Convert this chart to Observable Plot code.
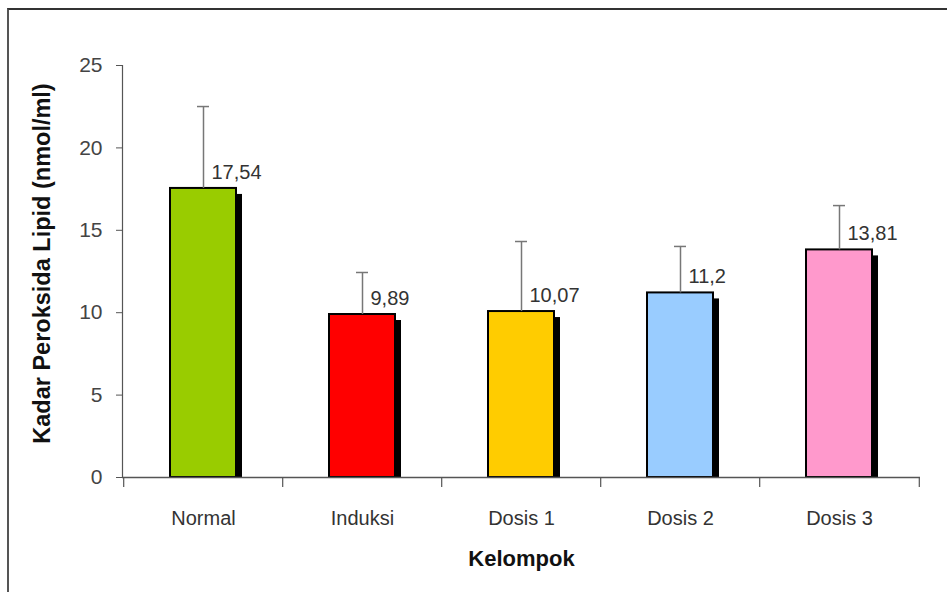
<!DOCTYPE html>
<html>
<head>
<meta charset="utf-8">
<script src="https://cdn.jsdelivr.net/npm/d3@7"></script>
<script src="https://cdn.jsdelivr.net/npm/@observablehq/plot@0.6"></script>
<style>
  html, body { margin: 0; padding: 0; background: #fff; }
  #wrap { position: relative; width: 947px; height: 592px; overflow: hidden; }
  #frame { position: absolute; left: 7px; top: 8px; width: 960px; height: 600px;
           border-top: 2px solid #333; border-left: 2px solid #555; box-sizing: border-box; }
  #chart { position: absolute; left: 0; top: 0; }
</style>
</head>
<body>
<div id="wrap"><div id="frame"></div><div id="chart"></div></div>
<script>
const categories = ["Normal", "Induksi", "Dosis 1", "Dosis 2", "Dosis 3"];
const means = [17.54, 9.89, 10.07, 11.2, 13.81];
const errors = [4.97, 2.55, 4.25, 2.82, 2.69];
const labels = ["17,54", "9,89", "10,07", "11,2", "13,81"];
const colors = ["#99CC00", "#FF0000", "#FFCC00", "#99CCFF", "#FF99CC"];
const yTicks = [0, 5, 10, 15, 20, 25];

const data = categories.map((c, i) => ({cat: c, v: means[i], hi: means[i] + errors[i], label: labels[i], color: colors[i]}));

const W = 947, H = 592;
const mL = 122, mR = 27, mT = 65, mB = 115;
const step = (W - mL - mR) / categories.length;
const pad = 0.585;
const sans = "'Liberation Sans', Arial, sans-serif";

const plot = Plot.plot({
  width: W, height: H,
  marginLeft: mL, marginRight: mR, marginTop: mT, marginBottom: mB,
  style: {fontFamily: sans, background: "transparent"},
  x: {domain: categories, paddingInner: pad, paddingOuter: pad / 2, label: null},
  y: {domain: [0, 25], label: null},
  marks: [
    // shadows
    Plot.barY(data, {x: "cat", y: "v", fill: "#000", dx: 6, dy: 6, clip: "frame"}),
    // bars
    Plot.barY(data, {x: "cat", y: "v", fill: d => d.color, stroke: "#000", strokeWidth: 2}),
    // error bars
    Plot.ruleX(data, {x: "cat", y1: "v", y2: "hi", stroke: "#777", strokeWidth: 1.5}),
    Plot.tickY(data, {x: "cat", y: "hi", stroke: "#777", strokeWidth: 1.5, inset: 27}),
    // value labels
    Plot.text(data, {x: "cat", y: "v", text: "label", dx: 8, dy: -16, textAnchor: "start", fontSize: 20, fill: "#333"}),
    // y axis
    Plot.axisY({ticks: yTicks, tickSize: 6, tickPadding: 14, fontSize: 21, color: "#444", stroke: "#555"}),
    Plot.frame({anchor: "left", stroke: "#555", strokeWidth: 1.2}),
    // x axis
    Plot.ruleY([0], {stroke: "#555", strokeWidth: 1.5}),
    Plot.axisX({tickSize: 0, tickPadding: 33, fontSize: 20, color: "#333"}),
    Plot.ruleX(categories, {x: d => d, dx: -step / 2, y1: 0, y2: -0.6, stroke: "#555", strokeWidth: 1.2}),
    Plot.ruleX([categories[categories.length - 1]], {x: d => d, dx: step / 2, y1: 0, y2: -0.6, stroke: "#555", strokeWidth: 1.2}),
    // titles
    Plot.text(["Kelompok"], {frameAnchor: "bottom", dy: 88, text: d => d, fontSize: 22, fontWeight: "bold", fill: "#111"}),
    Plot.text(["Kadar Peroksida Lipid (nmol/ml)"], {frameAnchor: "left", textAnchor: "middle", dx: -80, dy: -8, rotate: -90, text: d => d, fontSize: 23.5, fontWeight: "bold", fill: "#111"})
  ]
});
document.getElementById("chart").appendChild(plot);
</script>
</body>
</html>
